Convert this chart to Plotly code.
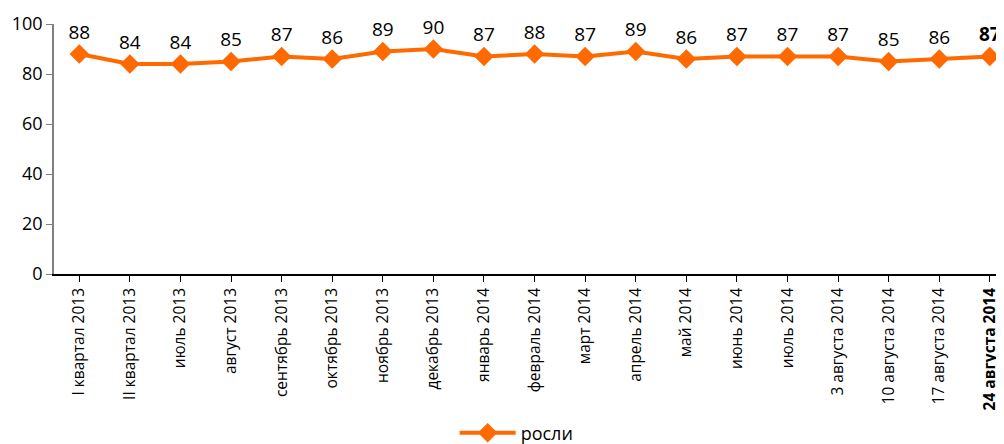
import plotly.graph_objects as go

categories = ["I квартал 2013", "II квартал 2013", "июль 2013", "август 2013", "сентябрь 2013",
              "октябрь 2013", "ноябрь 2013", "декабрь 2013", "январь 2014", "февраль 2014",
              "март 2014", "апрель 2014", "май 2014", "июнь 2014", "июль 2014",
              "3 августа 2014", "10 августа 2014", "17 августа 2014", "24 августа 2014"]
values = [88, 84, 84, 85, 87, 86, 89, 90, 87, 88, 87, 89, 86, 87, 87, 87, 85, 86, 87]
series_name = "росли"
y_ticks = [0, 20, 40, 60, 80, 100]

orange = "#FF6A00"
last = len(categories) - 1
labels = [f"<b>{v}</b>" if i == last else str(v) for i, v in enumerate(values)]
tick_text = [f"<b>{c}</b>" if i == last else c for i, c in enumerate(categories)]

fig = go.Figure()
fig.add_trace(go.Scatter(
    x=list(range(len(categories))), y=values, name=series_name,
    mode="lines+markers+text",
    line=dict(color=orange, width=4),
    marker=dict(symbol="diamond", size=15, color=orange),
    text=labels, textposition="top center",
    textfont=dict(family="Open Sans, Liberation Sans", size=19, color="#000"),
    cliponaxis=False,
))

fig.update_layout(
    width=996, height=436,
    margin=dict(l=46, r=0, t=16, b=170, autoexpand=False),
    paper_bgcolor="white", plot_bgcolor="white",
    showlegend=True,
    legend=dict(orientation="h", x=0.487, xanchor="center", y=-0.636, yanchor="middle",
                itemwidth=56,
                font=dict(family="Open Sans, Liberation Sans", size=18, color="#000")),
    font=dict(family="Open Sans, Liberation Sans", color="#000"),
)
fig.update_xaxes(
    range=[-0.5, 18.28], automargin=False,
    tickmode="array", tickvals=list(range(len(categories))), ticktext=tick_text,
    tickangle=-90, tickson="boundaries", ticks="outside", ticklen=6,
    tickcolor="#000", showline=True, linecolor="#000", linewidth=1.5,
    showgrid=False, zeroline=False,
    tickfont=dict(family="Liberation Sans Narrow, Open Sans", size=15.5, color="#000"),
)
fig.update_yaxes(
    range=[0, 100], automargin=False, tickmode="array", tickvals=y_ticks,
    ticks="outside", ticklen=6, tickcolor="#808080",
    showline=True, linecolor="#808080", linewidth=1.5,
    showgrid=False, zeroline=False,
    tickfont=dict(family="Open Sans, Liberation Sans", size=18, color="#000"),
)

fig.write_html("out.html")
